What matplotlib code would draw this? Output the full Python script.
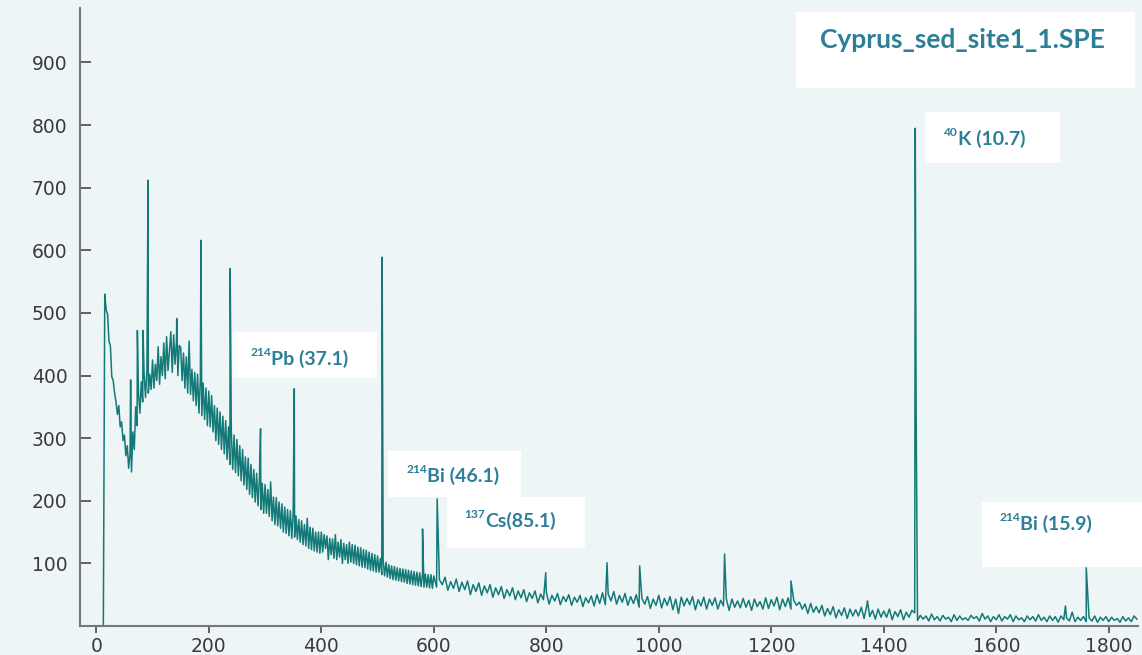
import numpy as np
import matplotlib
matplotlib.use("Agg")
import matplotlib.pyplot as plt
from matplotlib.patches import Rectangle

# gamma spectrum continuum
# low part: every 2.5 keV from -25 to 597.5 keV
LOW_START, LOW_STEP = -25, 2.5
low_counts = [
    0, 0, 0, 0, 0, 0, 0, 0, 0, 0,                                      # -25
    0, 0, 0, 0, 0, 0, 530, 505, 498, 455, 448, 398, 392, 372, 358, 338,
    352, 318, 326, 296,                                                # 0
    305, 272, 288, 252, 275, 246, 310, 282, 350, 320, 372, 340, 390, 358,
    402, 365, 410, 372, 402, 378,                                      # 50
    425, 380, 418, 392, 446, 386, 430, 400, 452, 395, 462, 408, 440, 470,
    405, 465, 418, 455, 400, 448,                                      # 100
    445, 392, 436, 380, 430, 372, 455, 370, 410, 360, 405, 352, 402, 340,
    395, 336, 388, 330, 380, 320,                                      # 150
    375, 318, 368, 310, 352, 296, 348, 290, 342, 282, 335, 275, 328, 266,
    318, 258, 312, 250, 305, 245,                                      # 200
    298, 240, 288, 232, 282, 225, 270, 218, 268, 210, 258, 205, 250, 198,
    244, 192, 236, 186, 228, 180,                                      # 250
    226, 180, 218, 175, 230, 168, 206, 162, 205, 160, 198, 156, 195, 150,
    190, 148, 186, 144, 184, 140,                                      # 300
    182, 142, 176, 138, 170, 134, 168, 130, 162, 128, 172, 124, 158, 122,
    156, 120, 150, 118, 150, 116,                                      # 350
    150, 118, 146, 124, 144, 106, 140, 114, 139, 108, 146, 106, 134, 110,
    138, 100, 132, 106, 130, 100,                                      # 400
    134, 102, 130, 100, 129, 98, 126, 96, 125, 94, 122, 93, 121, 91,
    118, 89, 116, 88, 114, 86,                                         # 450
    112, 86, 108, 82, 104, 80, 102, 78, 98, 76, 96, 74, 95, 73,
    93, 72, 92, 71, 91, 70,                                            # 500
    90, 68, 89, 67, 88, 66, 87, 65, 86, 64, 85, 63, 84, 62,
    83, 62, 82, 61, 82, 60,                                            # 550
]
# high part: every 5 keV from 600 to 1850 keV
HIGH_START, HIGH_STEP = 600, 5
high_counts = [
    80, 62, 74, 66, 78, 57, 71, 60, 75, 55,    # 600
    70, 58, 72, 50, 66, 55, 69, 49, 64, 53,    # 650
    66, 46, 61, 50, 63, 44, 58, 48, 61, 42,    # 700
    56, 45, 58, 39, 53, 44, 56, 37, 51, 42,    # 750
    54, 35, 49, 40, 52, 34, 47, 39, 50, 33,    # 800
    46, 38, 49, 31, 45, 37, 48, 32, 50, 36,    # 850
    53, 34, 51, 40, 55, 35, 49, 38, 52, 33,    # 900
    47, 36, 50, 30, 44, 35, 47, 28, 43, 33,    # 950
    49, 29, 44, 33, 47, 26, 43, 20, 46, 32,    # 1000
    44, 34, 47, 26, 42, 32, 46, 27, 43, 33,    # 1050
    45, 27, 41, 32, 44, 25, 43, 30, 40, 29,    # 1100
    44, 30, 41, 25, 43, 31, 39, 27, 45, 28,    # 1150
    42, 32, 46, 26, 43, 31, 45, 27, 41, 33,    # 1200
    38, 27, 35, 20, 36, 22, 31, 21, 33, 16,    # 1250
    28, 18, 31, 13, 26, 17, 29, 12, 27, 16,    # 1300
    26, 16, 30, 12, 33, 15, 25, 11, 27, 14,    # 1350
    24, 14, 27, 10, 23, 15, 26, 10, 22, 14,    # 1400
    25, 21, 9, 17, 11, 16, 8, 19, 10, 15,      # 1450
    8, 17, 11, 14, 7, 18, 9, 16, 10, 13,       # 1500
    9, 17, 12, 15, 8, 20, 11, 16, 7, 15,       # 1550
    10, 18, 8, 15, 11, 18, 7, 16, 10, 13,      # 1600
    7, 16, 10, 15, 8, 18, 9, 14, 7, 16,        # 1650
    9, 15, 6, 16, 10, 13, 8, 22, 7, 14,        # 1700
    9, 15, 7, 13, 8, 16, 6, 14, 9, 15,         # 1750
    7, 14, 9, 12, 6, 15, 8, 13, 7, 16,         # 1800
    11,                                        # 1850
]

# narrow photopeaks (keV, counts at top)
peak_e = [61, 73, 83, 92, 143, 186, 238, 292, 352, 507.6, 508.2, 509,
          580, 606, 799, 908, 966, 1117, 1235, 1371, 1456, 1457.5, 1723, 1760]
peak_top = [393, 472, 472, 712, 491, 616, 571, 315, 379, 180, 589, 380,
            155, 203, 85, 101, 96, 115, 72, 40, 795, 350, 32, 93]

title = "Cyprus_sed_site1_1.SPE"
labels = [("214", "Pb (37.1)"), ("214", "Bi (46.1)"), ("137", "Cs(85.1)"),
          ("40", "K (10.7)"), ("214", "Bi (15.9)")]

W, H = 1142, 655
BG = "#eef5f6"
LINE = "#137a77"
TXT = "#2b7f97"

e_low = LOW_START + LOW_STEP * np.arange(len(low_counts))
e_high = HIGH_START + HIGH_STEP * np.arange(len(high_counts))
x = np.concatenate([e_low, e_high, peak_e])
y = np.concatenate([low_counts, high_counts, peak_top])
order = np.argsort(x, kind="stable")
x, y = x[order], y[order]

fig = plt.figure(figsize=(W / 100, H / 100), dpi=100, facecolor=BG)
ax = fig.add_axes([80 / W, 1 - 626 / H, (1138 - 80) / W, (626 - 8) / H])
ax.set_facecolor(BG)
ax.plot(x, y, color=LINE, lw=1.1)

ax.set_xlim(-29, 1852)
ax.set_ylim(0, 987)
ax.set_xticks(range(0, 1801, 200))
ax.set_yticks(range(100, 901, 100))
for s in ("top", "right"):
    ax.spines[s].set_visible(False)
for s in ("left", "bottom"):
    ax.spines[s].set_color("#777777")
    ax.spines[s].set_linewidth(1.5)
ax.tick_params(axis="x", direction="out", length=5, width=1.3, color="#555555",
               labelsize=13.5, labelcolor="#3a3a3a", pad=3)
ax.tick_params(axis="y", direction="in", length=8, width=1.3, color="#555555",
               labelsize=13.5, labelcolor="#3a3a3a", pad=9)


def box(x0, y0, x1, y1):
    fig.patches.append(Rectangle((x0 / W, 1 - y1 / H), (x1 - x0) / W, (y1 - y0) / H,
                                 transform=fig.transFigure, facecolor="white",
                                 edgecolor="none", zorder=5))


def label(xs, base, sup, main, size=14):
    fig.text(xs / W, 1 - (base - 9) / H, sup, ha="right", va="baseline",
             fontsize=size * 0.62, color=TXT, fontweight="bold", family="Lato", zorder=6)
    fig.text(xs / W, 1 - base / H, main, ha="left", va="baseline",
             fontsize=size, color=TXT, fontweight="bold", family="Lato", zorder=6)


box(796, 12, 1135, 88)
fig.text(962 / W, 1 - 48 / H, title, ha="center", va="baseline", fontsize=19,
         color=TXT, fontweight="bold", family="Lato", zorder=6)

boxes = [(233, 332, 377, 378), (388, 451, 521, 497), (447, 497, 585, 548),
         (925, 112, 1060, 163), (982, 502, 1142, 567)]
anchors = [(271, 365), (427, 482), (485, 527), (958, 145), (1020, 530)]
for b, (xs, base), (sup, main) in zip(boxes, anchors, labels):
    box(*b)
    label(xs, base, sup, main)

fig.savefig("out.png", dpi=100, facecolor=BG)
